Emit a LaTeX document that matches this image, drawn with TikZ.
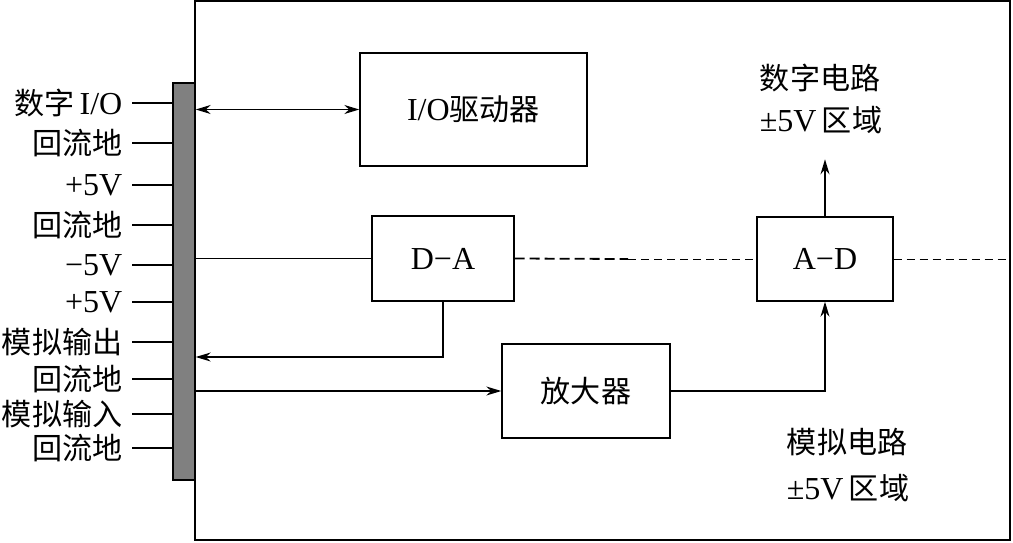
\documentclass[tikz,border=0pt]{standalone}
\usepackage{fontspec}
\setmainfont{Liberation Serif}
\newfontfamily\cjk[Scale=0.94]{Noto Sans CJK SC}
\usetikzlibrary{arrows.meta}
\tikzset{
  blk/.style = {draw, line width=0.7pt, inner sep=0pt},
  pin/.style = {anchor=east, inner sep=4.5pt},
  dashthick/.style = {line width=0.9pt, dash pattern=on 5pt off 2.5pt},
  dashthin/.style = {line width=0.5pt, dash pattern=on 4pt off 2.5pt}
}
\begin{document}
\begin{tikzpicture}[x=0.5pt, y=-0.5pt, line width=0.7pt,
    font=\fontsize{16}{21}\selectfont, >={Stealth[length=7.5pt,width=4.5pt]}]
	\useasboundingbox (0,0) rectangle (1013,542);
	% board and connector
	\draw[line width=1pt] (195,1) rectangle (1010,540);
	\coordinate (fr) at (1010,540);
	\node[blk, fill=gray, minimum width=11pt, minimum height=198.5pt] (bar) at (184,281.5) {};
	\foreach \t/\y [count=\i] in {{{\cjk 数字}\,I/O}/103, {\cjk 回流地}/143, +5V/185, {\cjk 回流地}/225,
	    −5V/265, +5V/302, {\cjk 模拟输出}/342, {\cjk 回流地}/379, {\cjk 模拟输入}/414, {\cjk 回流地}/448}
	{
		\node[pin] (p\i) at (132,\y) {\t};
		\draw (p\i.east) -- (p\i -| bar.west);
	}
	% blocks
	\node[blk, minimum width=113.5pt, minimum height=56.5pt] (drv) at (473.5,109.5) {I/O{\cjk 驱动器}};
	\node[blk, minimum width=71pt, minimum height=42.5pt] (da) at (443,258.5) {D−A};
	\node[blk, minimum width=68pt, minimum height=42pt] (ad) at (825,259) {A−D};
	\node[blk, minimum width=84pt, minimum height=47pt] (amp) at (586,391) {{\cjk 放大器}};
	\node[align=left] (dig) at (821,99) {{\cjk 数字电路}\\±5V\,{\cjk 区域}};
	\node[align=left] (ana) at (848,465) {{\cjk 模拟电路}\\[2pt]±5V\,{\cjk 区域}};
	% connections
	\coordinate (aout) at (0,357);
	\coordinate (mid) at (628,259);
	\draw[<->] (bar.east |- drv) -- (drv.west);
	\draw (bar.east |- da) -- (da.west);
	\draw[->] (da.south) |- (bar.east |- aout);
	\draw[->] (bar.east |- amp) -- (amp.west);
	\draw[->] (amp.east) -| (ad.south);
	\draw[->] (ad.north) -- ++(0,-57) coordinate (dtop);
	\draw[dashthick] (da.east) -- (mid);
	\draw[dashthin] (mid) -- (ad.west);
	\draw[dashthin] (ad.east) -- (ad.east -| fr);
\end{tikzpicture}
\end{document}
